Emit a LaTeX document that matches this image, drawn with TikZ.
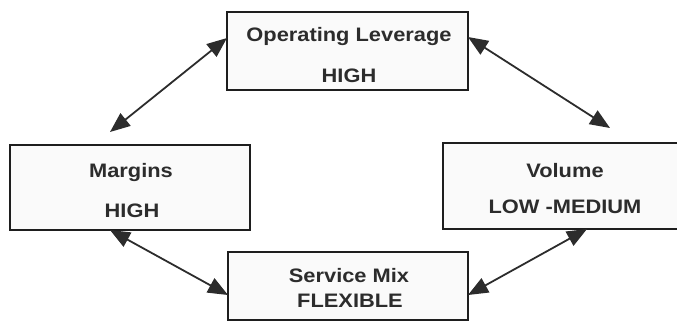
\documentclass[tikz,border=0pt]{standalone}
\usepackage{fontspec}
\setmainfont{Liberation Sans}[FakeStretch=1.12]
\usetikzlibrary{arrows.meta}
\definecolor{ink}{HTML}{1E1E1E}
\definecolor{txt}{HTML}{2C2C2C}
\begin{document}
\begin{tikzpicture}[x=1pt,y=-1pt,
  box/.style={draw=ink, line width=1.8pt, fill=black!2, inner sep=0pt, outer sep=0pt},
  lbl/.style={font=\fontsize{19.5}{22}\selectfont\bfseries, text=txt, anchor=base, inner sep=0pt},
  link/.style={draw=txt, line width=1.8pt,
    {Triangle[length=20pt,width=16pt]}-{Triangle[length=20pt,width=16pt]}}]
\useasboundingbox (0,0) rectangle (677,322);

% the four boxes
\node[box, minimum width=241pt, minimum height=78pt] (lev) at (347.5,51) {};
\node[box, minimum width=240pt, minimum height=85pt] (mar) at (130,187.5) {};
\node[box, minimum width=244pt, minimum height=86pt] (vol) at (565,186) {};
\node[box, minimum width=240pt, minimum height=68pt] (mix) at (348,286) {};

% box labels
\node[lbl] (levA) at (349,41) {Operating Leverage};
\node[lbl] (levB) at (349,82) {HIGH};
\node[lbl] (marA) at (131,177) {Margins};
\node[lbl] (marB) at (132,217) {HIGH};
\node[lbl] (volA) at (565,177) {Volume};
\node[lbl] (volB) at (565,213) {LOW -MEDIUM};
\node[lbl] (mixA) at (349,282) {Service Mix};
\node[lbl] (mixB) at (350,307) {FLEXIBLE};

% free ends of the upper arrows
\coordinate (nw) at (110,132);
\coordinate (ne) at (610,128);

% two-way links
\draw[link] (nw) -- ([yshift=13pt]lev.west);
\draw[link] ([yshift=14pt]lev.east) -- (ne);
\draw[link] ([xshift=-20pt]mar.south) -- ([yshift=-9pt]mix.west);
\draw[link] ([yshift=-9pt]mix.east) -- ([xshift=22pt]vol.south);
\end{tikzpicture}
\end{document}
